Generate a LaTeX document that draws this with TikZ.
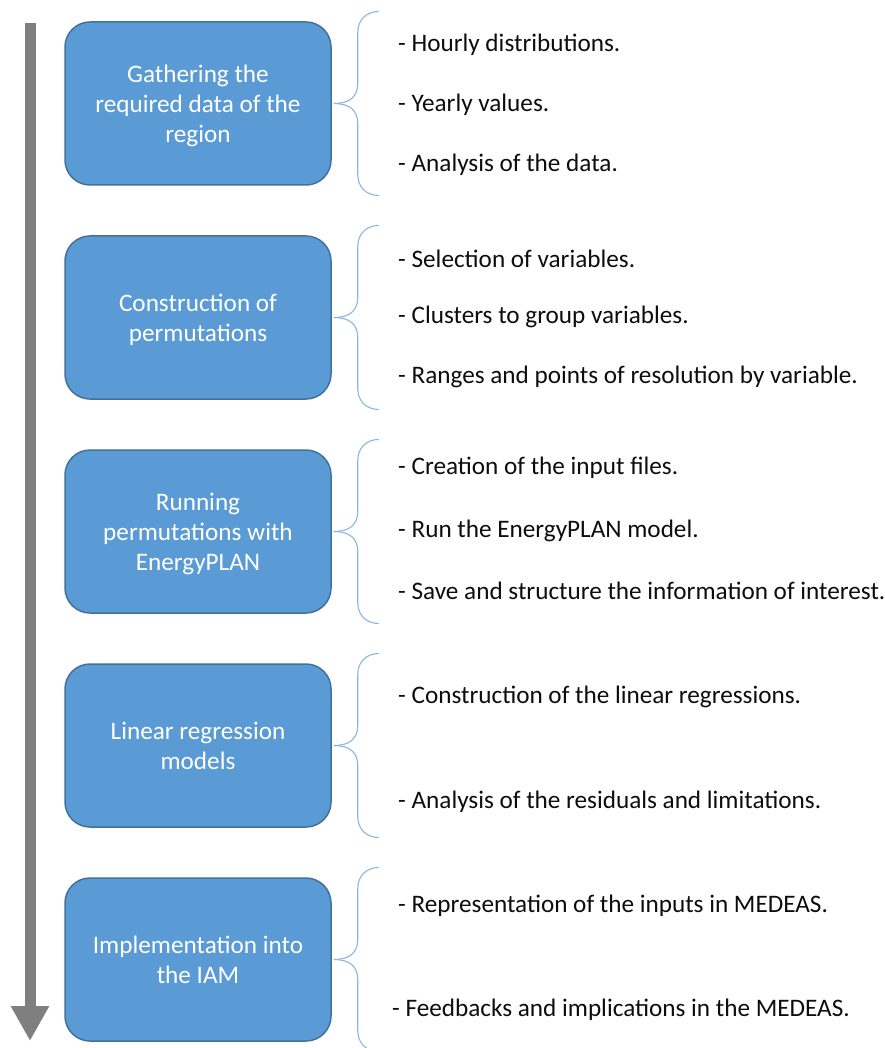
\documentclass[tikz,border=0pt]{standalone}
\usepackage{fontspec}
\setmainfont{Carlito}
\usetikzlibrary{arrows.meta, positioning}
\definecolor{stepfill}{HTML}{5B9BD5}
\definecolor{stepline}{HTML}{41719C}
\definecolor{bracecol}{HTML}{8AB6E2}
\definecolor{flowgray}{HTML}{7F7F7F}
\definecolor{itemtext}{HTML}{0D0D0D}

\newcommand{\sidebrace}[1]{%
  \draw[bracelink] ([xshift=2pt]#1.east) .. controls +(16,0) and +(0,-13) .. ++(24,20)
    -- ++(0,51) .. controls +(0,13) and +(-12,0) .. ++(21,21);
  \draw[bracelink] ([xshift=2pt]#1.east) .. controls +(16,0) and +(0,13) .. ++(24,-20)
    -- ++(0,-51) .. controls +(0,-13) and +(-12,0) .. ++(21,-21);
}

\begin{document}
\begin{tikzpicture}[
  x=1pt, y=1pt,
  stepbox/.style={rectangle, draw=stepline, fill=stepfill, line width=1.5pt, rounded corners=25pt,
    minimum width=266pt, minimum height=163pt, align=center, text=white, text depth=0pt,
    font=\fontsize{25.2}{30}\selectfont},
  itembox/.style={anchor=west, inner sep=0pt, text=itemtext, font=\fontsize{25.2}{30}\selectfont},
  bracelink/.style={draw=bracecol, line width=1.1pt},
  flowline/.style={draw=flowgray, line width=11pt, -{Triangle[length=35pt, width=36pt]}},
]
\useasboundingbox (0,0) rectangle (884,-1048);

% Timeline arrow
\coordinate (flowtop) at (30,-23);
\coordinate (flowend) at (30,-1041);
\draw[flowline] (flowtop) -- (flowend);

% Steps
\node[stepbox] (gather) at (198,-103.5) {Gathering the\\required data of the\\region};
\node[stepbox] (perm) at (198,-317.5) {Construction of\\permutations};
\node[stepbox] (run) at (198,-531.5) {Running\\permutations with\\EnergyPLAN};
\node[stepbox] (linreg) at (198,-745.5) {Linear regression\\models};
\node[stepbox] (iam) at (198,-959.5) {Implementation into\\the IAM};

% Braces
\sidebrace{gather}
\sidebrace{perm}
\sidebrace{run}
\sidebrace{linreg}
\sidebrace{iam}

% Items
\node[itembox] (g1) at (398,-45) {- Hourly distributions.};
\node[itembox] (g2) at (398,-105) {- Yearly values.};
\node[itembox] (g3) at (398,-165) {- Analysis of the data.};

\node[itembox] (p1) at (398,-259) {- Selection of variables.};
\node[itembox] (p2) at (398,-317) {- Clusters to group variables.};
\node[itembox] (p3) at (398,-377) {- Ranges and points of resolution by variable.};

\node[itembox] (r1) at (398,-468) {- Creation of the input files.};
\node[itembox] (r2) at (398,-531) {- Run the EnergyPLAN model.};
\node[itembox] (r3) at (398,-591) {- Save and structure the information of interest.};

\node[itembox] (l1) at (398,-697) {- Construction of the linear regressions.};
\node[itembox] (l2) at (398,-802) {- Analysis of the residuals and limitations.};

\node[itembox] (i1) at (398,-906) {- Representation of the inputs in MEDEAS.};
\node[itembox] (i2) at (392,-1010) {- Feedbacks and implications in the MEDEAS.};

\end{tikzpicture}
\end{document}
